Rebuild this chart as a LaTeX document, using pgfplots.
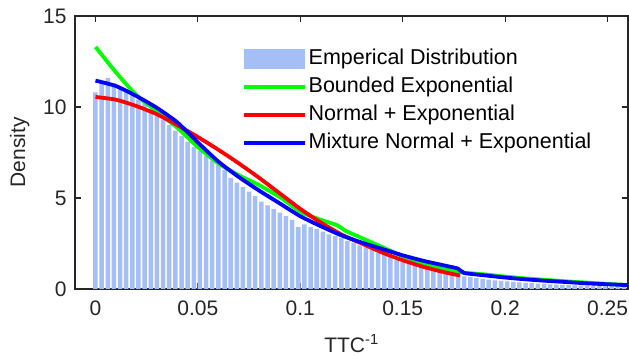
\documentclass[border=0pt]{standalone}
\usepackage{pgfplots}
\pgfplotsset{compat=1.18}
\usepackage{fontspec}
\setmainfont{Liberation Sans}
\definecolor{barblue}{RGB}{164,190,246}
\definecolor{axgray}{RGB}{38,38,38}
\begin{document}
\begin{tikzpicture}
\begin{axis}[
  at={(0,0)}, anchor=south west,
  scale only axis, width=553pt, height=273pt,
  xmin=-0.01, xmax=0.26, ymin=0, ymax=15,
  xtick={0,0.05,0.1,0.15,0.2,0.25},
  xticklabels={0,0.05,0.1,0.15,0.2,0.25},
  ytick={0,5,10,15},
  yticklabels={0,5,10,15},
  tick align=inside, xtick pos=both, ytick pos=both,
  major tick length=6pt,
  axis line style={draw=axgray, line width=1.2pt},
  tick style={draw=axgray, line width=1.2pt},
  ticklabel style={font=\fontsize{21}{25}\selectfont, text=axgray},
  xticklabel style={yshift=-8pt},
  yticklabel style={xshift=-5pt},
  xlabel={TTC\textsuperscript{-1}}, ylabel={Density},
  label style={font=\fontsize{21}{25}\selectfont, text=axgray},
  xlabel style={at={(axis description cs:0.5,-0.2)}, anchor=center},
  ylabel style={at={(axis description cs:-0.1,0.5)}, anchor=center},
  legend cell align=left,
  legend style={draw=none, fill=none, at={(0.3014,0.886)}, anchor=north west,
    font=\fontsize{21.5}{25}\selectfont, row sep=5pt, inner sep=0pt,
    nodes={inner sep=2pt, text height=15pt, text depth=4pt}},
]
\coordinate (SW) at (rel axis cs:0,0);
\coordinate (NE) at (rel axis cs:1,1);
\addplot[fill=barblue, draw=none, ybar, bar width=0.0022, bar shift=0pt,
  legend image code/.code={\fill[barblue] (0pt,-10pt) rectangle (61pt,10pt);}]
coordinates {
(0.000,10.8)(0.003,11.3)(0.006,11.6)(0.009,11.3)(0.012,11.1)(0.015,10.9)
(0.018,10.7)(0.021,10.4)(0.024,10.2)(0.027,9.9)(0.030,9.6)(0.033,9.3)
(0.036,9.0)(0.039,8.7)(0.042,8.4)(0.045,8.1)(0.048,7.8)(0.051,7.6)
(0.054,7.3)(0.057,7.05)(0.060,6.8)(0.063,6.55)(0.066,6.1)(0.069,5.85)
(0.072,5.6)(0.075,5.35)(0.078,5.1)(0.081,4.8)(0.084,4.6)(0.087,4.4)
(0.090,4.2)(0.093,4.0)(0.096,3.8)(0.099,3.4)(0.102,3.55)(0.105,3.4)
(0.108,3.3)(0.111,3.15)(0.114,3.0)(0.117,2.9)(0.120,2.8)(0.123,2.65)
(0.126,2.55)(0.129,2.4)(0.132,2.28)(0.135,2.15)(0.138,2.0)(0.141,1.88)
(0.144,1.75)(0.147,1.62)(0.150,1.5)(0.153,1.4)(0.156,1.3)(0.159,1.2)
(0.162,1.1)(0.165,1.02)(0.168,0.95)(0.171,0.88)(0.174,0.8)(0.177,0.75)
(0.180,0.7)(0.183,0.65)(0.186,0.6)(0.189,0.56)(0.192,0.52)(0.195,0.48)
(0.198,0.45)(0.201,0.42)(0.204,0.39)(0.207,0.36)(0.210,0.34)(0.213,0.32)
(0.216,0.30)(0.219,0.28)(0.222,0.26)(0.225,0.24)(0.228,0.23)(0.231,0.21)
(0.234,0.20)(0.237,0.19)(0.240,0.18)(0.243,0.17)(0.246,0.16)(0.249,0.15)
(0.252,0.14)(0.255,0.13)(0.258,0.12)
};
\addlegendentry{Emperical Distribution}
\addplot[green, line width=3.8pt, smooth, tension=0.4,
  legend image code/.code={\draw[green, line width=3.8pt] (0pt,0pt) -- (61pt,0pt);}]
coordinates {
(0,13.3)(0.01,11.9)(0.02,10.65)(0.03,9.75)(0.04,8.85)(0.05,7.8)(0.06,6.9)
(0.07,6.25)(0.08,5.7)(0.09,5.05)(0.10,4.25)(0.11,3.8)(0.118,3.5)(0.122,3.2)
(0.13,2.8)(0.14,2.3)(0.15,1.8)(0.16,1.42)(0.17,1.1)(0.178,0.92)(0.19,0.8)
(0.20,0.68)(0.21,0.58)(0.22,0.5)(0.23,0.42)(0.24,0.35)(0.25,0.28)(0.26,0.22)
};
\addlegendentry{Bounded Exponential}
\addplot[red, line width=3.8pt, smooth, tension=0.4,
  legend image code/.code={\draw[red, line width=3.8pt] (0pt,0pt) -- (61pt,0pt);}]
coordinates {
(0,10.55)(0.01,10.4)(0.02,10.05)(0.03,9.6)(0.04,9.0)(0.05,8.35)(0.06,7.65)
(0.07,6.9)(0.08,6.1)(0.09,5.25)(0.10,4.4)(0.11,3.65)(0.12,3.0)(0.13,2.5)
(0.14,2.0)(0.15,1.58)(0.16,1.22)(0.17,0.93)(0.178,0.74)
};
\addlegendentry{Normal + Exponential}
\addplot[blue, line width=3.8pt, smooth, tension=0.4,
  legend image code/.code={\draw[blue, line width=3.8pt] (0pt,0pt) -- (61pt,0pt);}]
coordinates {
(0,11.45)(0.01,11.15)(0.02,10.6)(0.03,9.95)(0.04,9.15)(0.05,8.05)(0.06,7.0)
(0.07,6.15)(0.08,5.4)(0.09,4.7)(0.10,4.0)(0.11,3.45)(0.12,2.95)(0.13,2.55)
(0.14,2.2)(0.15,1.85)(0.16,1.55)(0.17,1.3)(0.177,1.12)(0.18,0.88)(0.19,0.75)
(0.20,0.63)(0.21,0.53)(0.22,0.45)(0.23,0.38)(0.24,0.31)(0.25,0.26)(0.26,0.21)
};
\addlegendentry{Mixture Normal + Exponential}
\end{axis}
\pgfresetboundingbox
\path[use as bounding box] ([shift={(-75pt,-71pt)}]SW) rectangle ([shift={(1pt,16pt)}]NE);
\end{tikzpicture}
\end{document}
